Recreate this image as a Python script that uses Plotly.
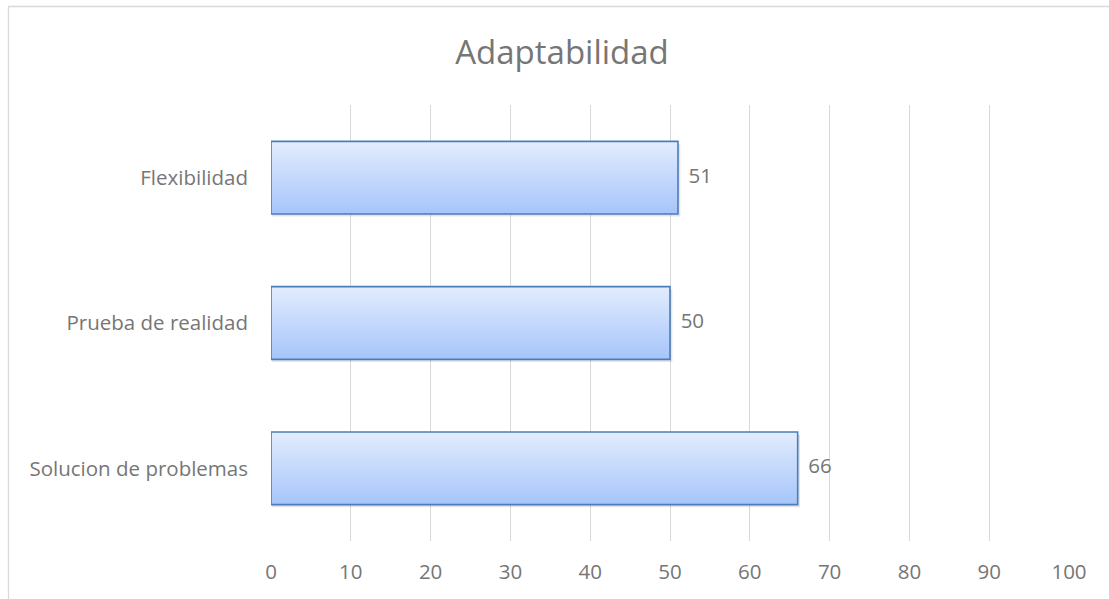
import plotly.graph_objects as go

# Adaptability scores by sub-scale (bottom to top on the chart)
categories = ["Solucion de problemas", "Prueba de realidad", "Flexibilidad"]
values = [66, 50, 51]
x_ticks = [0, 10, 20, 30, 40, 50, 60, 70, 80, 90, 100]

W, H = 1109, 599
L, R, T, B = 271, 40, 105, 58
BAR_HALF = 0.25
TEXT = "#767676"
FONT = "Open Sans"
FS = 20.5

fig = go.Figure()

for i, (cat, v) in enumerate(zip(categories, values)):
    y0, y1 = i - BAR_HALF, i + BAR_HALF
    # soft drop shadow under each bar
    fig.add_trace(go.Scatter(
        x=[0.15, v + 0.3, v + 0.3, 0.15, 0.15],
        y=[y0 - 0.018, y0 - 0.018, y1 - 0.02, y1 - 0.02, y0 - 0.018],
        fill="toself", fillcolor="rgba(0,0,0,0.10)",
        line=dict(width=0), mode="lines", hoverinfo="skip", showlegend=False,
    ))
    # gradient-filled bar with blue outline
    fig.add_trace(go.Scatter(
        x=[0, v, v, 0, 0],
        y=[y0, y0, y1, y1, y0],
        fill="toself",
        fillgradient=dict(type="vertical",
                          colorscale=[[0, "#a6c5fb"], [1, "#e2ecfd"]]),
        line=dict(color="#4a7ebb", width=1.6),
        mode="lines", name=cat, showlegend=False,
        hovertemplate=f"{cat}: {v}<extra></extra>",
    ))

# value labels to the right of each bar
fig.add_trace(go.Scatter(
    x=values, y=list(range(len(values))),
    text=[str(v) for v in values], mode="text",
    textposition="middle right", texttemplate="  %{text}",
    textfont=dict(family=FONT, size=FS, color=TEXT),
    hoverinfo="skip", showlegend=False,
))

# chart-area border (only top and left edges fall inside the page)
pw, ph = W - L - R, H - T - B
fig.add_shape(type="rect", xref="paper", yref="paper",
              x0=(8.5 - L) / pw, x1=(W + 20 - L) / pw,
              y0=-(B + 20) / ph, y1=(H - 6.5 - B) / ph,
              line=dict(color="#d9d9d9", width=1.3), layer="below")

fig.update_layout(
    width=W, height=H,
    margin=dict(l=L, r=R, t=T, b=B),
    paper_bgcolor="white", plot_bgcolor="white",
    title=dict(text="Adaptabilidad", x=562 / W, xanchor="center",
               y=1 - 52 / H, yanchor="middle",
               font=dict(family=FONT, size=33, color=TEXT)),
    xaxis=dict(range=[0, 100], tickvals=x_ticks, showgrid=True,
               gridcolor="#d9d9d9", gridwidth=1, zeroline=False,
               showline=False, ticks="", ticklabelstandoff=16,
               tickfont=dict(family=FONT, size=FS, color=TEXT),
               fixedrange=True),
    yaxis=dict(range=[-0.5, len(categories) - 0.5],
               tickvals=list(range(len(categories))), ticktext=categories,
               showgrid=False, zeroline=False, showline=False, ticks="",
               ticklabelstandoff=22,
               tickfont=dict(family=FONT, size=FS, color=TEXT),
               fixedrange=True),
)

fig.write_html("out.html")
